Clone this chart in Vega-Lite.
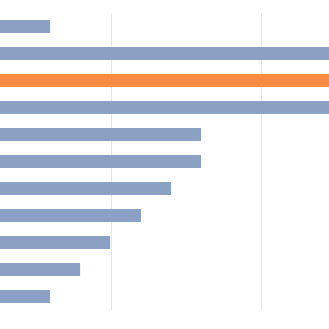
{
  "$schema": "https://vega.github.io/schema/vega-lite/v6.json",
  "width": 329,
  "height": 297,
  "autosize": {"type": "none"},
  "padding": {"top": 13, "left": 0, "right": 0, "bottom": 19},
  "background": "white",
  "config": {"view": {"stroke": null}},
  "data": {
    "values": [
      {"item": "A", "value": 2.97, "highlight": "no"},
      {"item": "B", "value": 13, "highlight": "no"},
      {"item": "C", "value": 13, "highlight": "yes"},
      {"item": "D", "value": 13, "highlight": "no"},
      {"item": "E", "value": 8, "highlight": "no"},
      {"item": "F", "value": 8, "highlight": "no"},
      {"item": "G", "value": 7, "highlight": "no"},
      {"item": "H", "value": 6, "highlight": "no"},
      {"item": "I", "value": 4.97, "highlight": "no"},
      {"item": "J", "value": 3.97, "highlight": "no"},
      {"item": "K", "value": 2.97, "highlight": "no"}
    ]
  },
  "mark": {"type": "bar", "clip": true},
  "encoding": {
    "y": {
      "field": "item",
      "type": "nominal",
      "sort": null,
      "scale": {"paddingInner": 0.5185, "paddingOuter": 0.259},
      "axis": null
    },
    "x": {
      "field": "value",
      "type": "quantitative",
      "scale": {"domain": [1.3, 12.267], "nice": false, "zero": false},
      "axis": {
        "values": [5, 10],
        "grid": true,
        "gridColor": "#e6e6e6",
        "gridWidth": 1,
        "domain": false,
        "ticks": false,
        "labels": false,
        "title": null
      }
    },
    "color": {
      "field": "highlight",
      "type": "nominal",
      "scale": {"domain": ["no", "yes"], "range": ["#8ba1c3", "#fc8c41"]},
      "legend": null
    }
  }
}
